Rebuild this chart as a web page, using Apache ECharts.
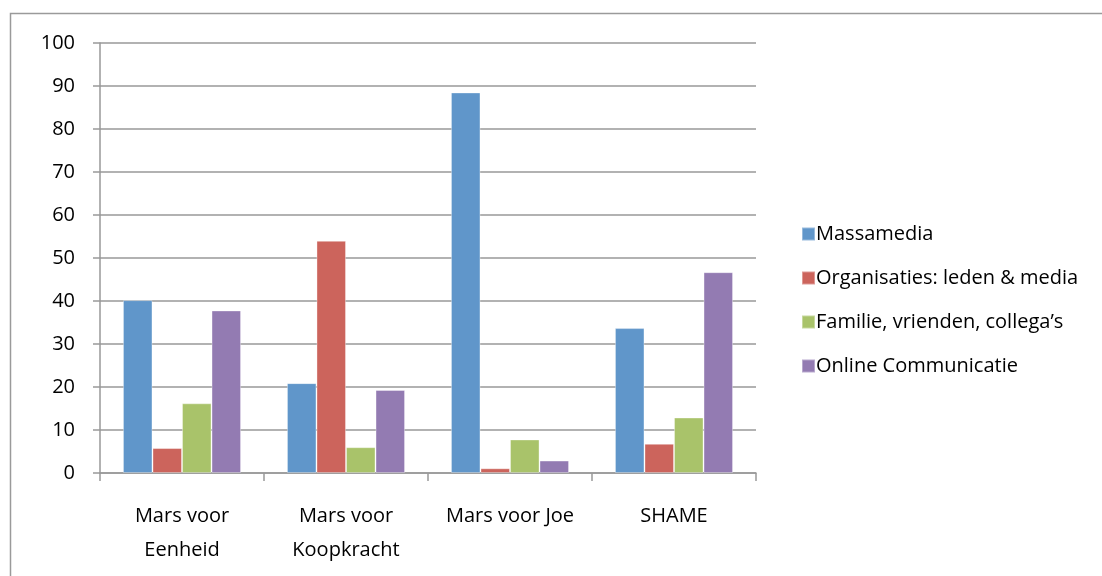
<!DOCTYPE html>
<html>
<head>
<meta charset="utf-8">
<script src="https://cdn.jsdelivr.net/npm/echarts@6/dist/echarts.min.js"></script>
<style>html,body{margin:0;padding:0;background:#fff}#c{width:1102px;height:576px}</style>
</head>
<body>
<div id="c"></div>
<script>
const categories = ['Mars voor\nEenheid', 'Mars voor\nKoopkracht', 'Mars voor Joe', 'SHAME'];
const seriesNames = ['Massamedia', 'Organisaties: leden & media', 'Familie, vrienden, collega\u2019s', 'Online Communicatie'];
const massamedia = [40.2, 20.9, 88.5, 33.7];
const organisaties = [5.8, 54.0, 1.1, 6.8];
const familie = [16.2, 6.0, 7.8, 12.9];
const online = [37.8, 19.3, 2.9, 46.7];
const yTicks = [0, 10, 20, 30, 40, 50, 60, 70, 80, 90, 100];

const colors = ['#6096CA', '#CC645C', '#A9C36A', '#937BB2'];
const seriesData = [massamedia, organisaties, familie, online];
const font = '"Open Sans", Lato, sans-serif';

const chart = echarts.init(document.getElementById('c'), null, {renderer: 'canvas'});
chart.setOption({
  animation: false,
  color: colors,
  graphic: [{
    type: 'rect', silent: true, z: -1,
    shape: {x: 10.5, y: 13.5, width: 1200, height: 700},
    style: {fill: 'none', stroke: '#9a9a9a', lineWidth: 1.5}
  }],
  grid: {left: 100, right: 346, top: 43, bottom: 103, containLabel: false},
  legend: {
    orient: 'vertical', left: 796, top: 219,
    itemWidth: 13, itemHeight: 13, itemGap: 24,
    icon: 'rect',
    textStyle: {fontFamily: font, fontSize: 20, lineHeight: 20, color: '#000', padding: [0, 0, 0, -4]},
    data: seriesNames
  },
  xAxis: {
    type: 'category', data: categories,
    axisLine: {lineStyle: {color: '#999', width: 1.5}},
    axisTick: {show: true, length: 8, lineStyle: {color: '#999', width: 1.5}},
    axisLabel: {fontFamily: font, fontSize: 20, color: '#000', margin: 26, lineHeight: 34, interval: 0}
  },
  yAxis: {
    type: 'value', min: 0, max: 100, interval: 10,
    axisLine: {show: true, lineStyle: {color: '#999', width: 1.5}},
    axisTick: {show: true, length: 7, lineStyle: {color: '#999', width: 1.5}},
    splitLine: {lineStyle: {color: '#999', width: 1.5}},
    axisLabel: {fontFamily: font, fontSize: 20, color: '#000', margin: 25,
      formatter: v => yTicks.includes(v) ? String(v) : ''}
  },
  series: seriesNames.map((n, i) => ({
    name: n, type: 'bar', data: seriesData[i],
    barGap: '0%', barCategoryGap: '28%',
    itemStyle: {color: colors[i], borderColor: 'rgba(255,255,255,0.35)', borderWidth: 1}
  }))
});
</script>
</body>
</html>
